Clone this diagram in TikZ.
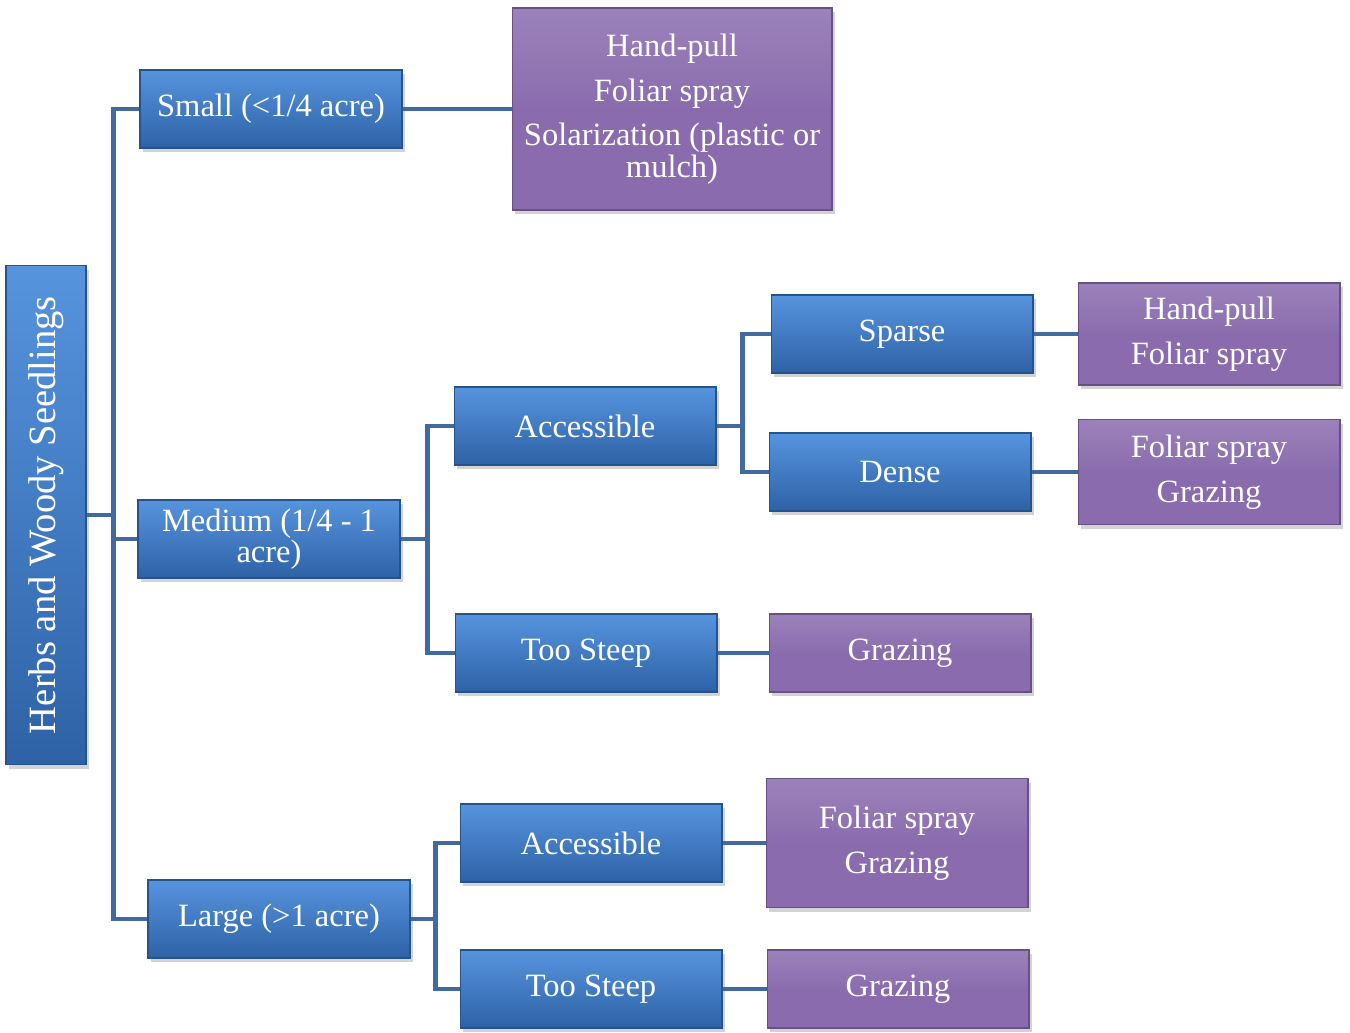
\documentclass[tikz,border=0pt]{standalone}
\usepackage{fontspec}
\setmainfont{Liberation Serif}
\usetikzlibrary{shadows}

\definecolor{blauoben}{RGB}{86,148,222}
\definecolor{blauunten}{RGB}{46,98,166}
\definecolor{lila}{RGB}{138,108,174}
\definecolor{linie}{RGB}{66,106,160}

\begin{document}
\begin{tikzpicture}[
    x=0.02cm, y=-0.02cm,
    font=\fontsize{18.5}{18}\selectfont,
    blaubox/.style={top color=blauoben, bottom color=blauunten,
        draw=blauunten!85!black, line width=0.6pt, text=white,
        minimum width=\w, minimum height=\h, align=center,
        drop shadow={shadow xshift=1.5pt, shadow yshift=-2.5pt, opacity=0.35}},
    lilabox/.style={top color=lila!85!white, bottom color=lila,
        middle color=lila, draw=lila!75!black, line width=0.6pt, text=white,
        minimum width=\w, align=center,
        drop shadow={shadow xshift=1.5pt, shadow yshift=-2.5pt, opacity=0.35}},
    linie/.style={draw=linie, line width=2.3pt}
]

% gemeinsame Maße
\def\w{5.24cm}
\def\h{1.56cm}

\useasboundingbox (0,0) rectangle (1350,1032);

% Wurzel
\node[blaubox, rotate=90, minimum width=9.98cm, minimum height=1.6cm,
      font=\fontsize{22}{22}\selectfont] (wurzel) at (46,515)
      {Herbs and Woody Seedlings};

% Flächengrößen
\node[blaubox] (klein)  at (271,109) {Small (<1/4 acre)};
\node[blaubox] (mittel) at (269,539) {Medium (1/4 - 1\\acre)};
\node[blaubox] (gross)  at (279,919) {Large (>1 acre)};

% klein
\node[lilabox, minimum width=6.4cm, minimum height=4.04cm] (kleinM) at (672,109)
      {Hand-pull\\[7.5pt]Foliar spray\\[7.5pt]Solarization (plastic or\\mulch)};

% mittel
\node[blaubox] (mZug)   at (585,426) {Accessible};
\node[blaubox] (mSteil) at (586,653) {Too Steep};
\node[blaubox] (duenn)  at (902,334) {Sparse};
\node[blaubox] (dicht)  at (900,472) {Dense};
\node[lilabox, minimum height=2.04cm] (duennM) at (1209,334)
      {Hand-pull\\[7.5pt]Foliar spray};
\node[lilabox, minimum height=2.1cm] (dichtM) at (1209,472)
      {Foliar spray\\[7.5pt]Grazing};
\node[lilabox, minimum height=\h] (mSteilM) at (900,653) {Grazing};

% gross
\node[blaubox] (gZug)   at (591,843) {Accessible};
\node[blaubox] (gSteil) at (591,989) {Too Steep};
\node[lilabox, minimum height=2.58cm] (gZugM) at (897,843)
      {Foliar spray\\[7.5pt]Grazing};
\node[lilabox, minimum height=\h] (gSteilM) at (898,989) {Grazing};

% Verbindungen
\draw[linie] (wurzel.south) -- ++(27,0) coordinate (k1);
\draw[linie] (k1) |- (klein.west);
\draw[linie] (k1) |- (mittel.west);
\draw[linie] (k1) |- (gross.west);
\draw[linie] (klein.east) -- (kleinM.west);

\draw[linie] (mittel.east) -- ++(27,0) coordinate (k2);
\draw[linie] (k2) |- (mZug.west);
\draw[linie] (k2) |- (mSteil.west);
\draw[linie] (mZug.east) -- ++(26,0) coordinate (k3);
\draw[linie] (k3) |- (duenn.west);
\draw[linie] (k3) |- (dicht.west);
\draw[linie] (duenn.east) -- (duennM.west);
\draw[linie] (dicht.east) -- (dichtM.west);
\draw[linie] (mSteil.east) -- (mSteilM.west);

\draw[linie] (gross.east) -- ++(25,0) coordinate (k4);
\draw[linie] (k4) |- (gZug.west);
\draw[linie] (k4) |- (gSteil.west);
\draw[linie] (gZug.east) -- (gZugM.west);
\draw[linie] (gSteil.east) -- (gSteilM.west);

\end{tikzpicture}
\end{document}
